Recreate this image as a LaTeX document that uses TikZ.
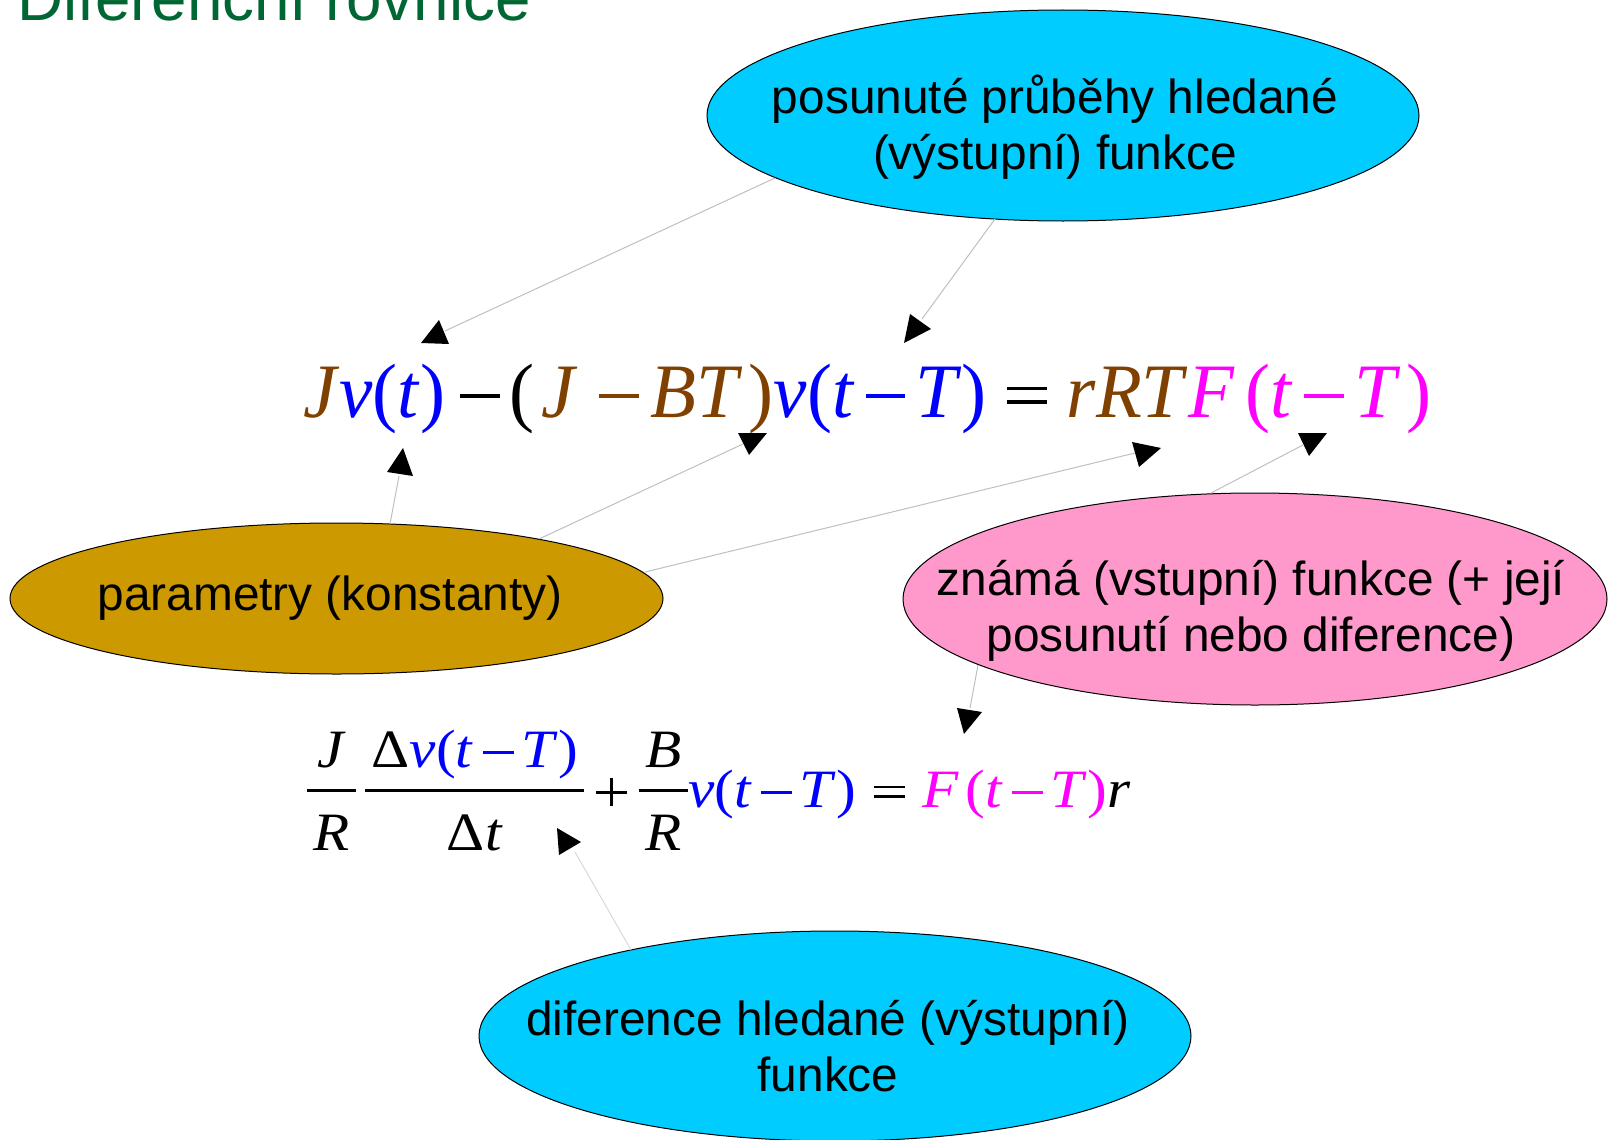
\documentclass[tikz,border=0pt]{standalone}
\usepackage{fontspec}
\usepackage{graphicx}
\setmainfont{Liberation Sans}
\newfontfamily\eqf{Liberation Serif}
\usetikzlibrary{shapes.geometric}
\definecolor{titlegreen}{HTML}{006633}
\definecolor{bubblecyan}{HTML}{00CCFF}
\definecolor{bubblegold}{HTML}{CC9900}
\definecolor{bubblepink}{HTML}{FF99CC}
\definecolor{eqbrown}{HTML}{804000}
\definecolor{eqblue}{HTML}{0000FF}
\definecolor{eqmag}{HTML}{FF00FF}
\definecolor{linkgray}{HTML}{C0C0C0}
\newcommand\myhs[1]{\hspace{#1em}}
\newcommand\mybro[1]{\textcolor{eqbrown}{#1}}
\newcommand\myblu[1]{\textcolor{eqblue}{#1}}
\newcommand\mymag[1]{\textcolor{eqmag}{#1}}
\newcommand\myiv[1]{\textit{#1}}
\newcommand\mymin{\rule[0.25em]{0.53em}{0.05em}}
\newcommand\myeqs{\rlap{\rule[0.175em]{0.53em}{0.045em}}\rule[0.345em]{0.53em}{0.045em}}
\newcommand\myplus{\rlap{\rule[0.25em]{0.52em}{0.05em}}\hspace{0.235em}\rlap{\rule[0.015em]{0.05em}{0.52em}}\hspace{0.285em}}
\newcommand\myfrac[2]{%
 \begingroup
 \setbox0=\hbox{#1}\setbox2=\hbox{#2}%
 \dimen0=\wd0 \ifdim\wd2>\dimen0 \dimen0=\wd2 \fi
 \advance\dimen0 by 0.22em
 \rlap{\hbox to\dimen0{\hss\raise0.74em\box0\hss}}%
 \rlap{\hbox to\dimen0{\hss\lower0.80em\box2\hss}}%
 \rlap{\rule[0.275em]{\dimen0}{0.05em}}%
 \hbox to\dimen0{\hss}%
 \endgroup}
\tikzset{
 bubble/.style={ellipse, draw=black, line width=1pt, inner sep=0pt},
 bubbletext/.style={inner sep=0pt, align=center, font=\fontsize{47.8}{56.5}\selectfont},
 link/.style={draw=linkgray, line width=1pt},
 tiphead/.style={fill=black},
}
\begin{document}
\begin{tikzpicture}[x=1pt,y=-1pt]
\useasboundingbox (0,0) rectangle (1609,1140);
\clip (0,0) rectangle (1609,1140);
\fill[white] (0,0) rectangle (1609,1140);

\node[anchor=base west, inner sep=0pt, text=titlegreen, font=\fontsize{63.7}{70}\selectfont] (title) at (17,21) {Diferenční rovnice};

% ellipses
\node[bubble, fill=bubblecyan, minimum width=712pt, minimum height=211pt] (top) at (1063,115.5) {};
\node[bubble, fill=bubblegold, minimum width=653pt, minimum height=151pt] (par) at (336.5,598.5) {};
\node[bubble, fill=bubblepink, minimum width=704pt, minimum height=212pt] (pink) at (1255,599) {};
\node[bubble, fill=bubblecyan, minimum width=712pt, minimum height=210pt] (bot) at (835,1036) {};

\node[bubbletext] (toptext) at (1055,127) {posunuté průběhy hledané\\(výstupní) funkce};
\node[bubbletext, anchor=base] (partext) at (330,610) {parametry (konstanty)};
\node[bubbletext] (pinktext) at (1251,611) {známá (vstupní) funkce (+ její\\posunutí nebo diference)};
\node[bubbletext] (bottext) at (828,1046) {diference hledané (výstupní)\\funkce};

% equations
\node[anchor=base west, inner sep=0pt] (eqa) at (303,417) {\resizebox{1128pt}{\height}{\eqf\fontsize{77}{80}\selectfont
\mybro{\myiv{J}}\myblu{\myiv{v}(\myiv{t})}\myhs{.2}\mymin\myhs{.12}(\myhs{.1}\mybro{\myiv{J}\myhs{.28}\mymin\myhs{.16}\myiv{BT}\myhs{.08})}\myblu{\myiv{v}(\myiv{t}\myhs{.15}\mymin\myhs{.13}\myiv{T})}\myhs{.27}\myeqs\myhs{.27}\mybro{\myiv{rRT}}\mymag{\myiv{F}\myhs{.15}(\myiv{t}\myhs{.15}\mymin\myhs{.13}\myiv{T}\myhs{.08})}}};

\node[anchor=base west, inner sep=0pt] (eqb) at (307,807) {\resizebox{823pt}{\height}{\eqf\fontsize{54}{60}\selectfont
\myfrac{\myiv{J}}{\myiv{R}}\myhs{.15}\myfrac{Δ\myblu{\myiv{v}(\myiv{t}\myhs{.15}\mymin\myhs{.13}\myiv{T})}}{Δ\myiv{t}}\myhs{.2}\myplus\myhs{.2}\myfrac{\myiv{B}}{\myiv{R}}\myblu{\myiv{v}(\myiv{t}\myhs{.15}\mymin\myhs{.13}\myiv{T})}\myhs{.3}\myeqs\myhs{.3}\mymag{\myiv{F}\myhs{.1}(\myiv{t}\myhs{.15}\mymin\myhs{.13}\myiv{T})}\myiv{r}}};

% connector end points
\coordinate (s1) at (775,178);  \coordinate (e1) at (445,331);
\coordinate (s2) at (995,219);  \coordinate (e2) at (922,319);
\coordinate (s3) at (390,524);  \coordinate (e3) at (399,476);
\coordinate (s4) at (539,539);  \coordinate (e4) at (743,444);
\coordinate (s5) at (645,572);  \coordinate (e5) at (1135,453);
\coordinate (s6) at (1211,493); \coordinate (e6) at (1303,445);
\coordinate (s7) at (978,665);  \coordinate (e7) at (970,708);
\coordinate (s8) at (631,950);  \coordinate (e8) at (575,852);

\draw[link] (s1) -- (e1);
\draw[link] (s2) -- (e2);
\draw[link] (s3) -- (e3);
\draw[link] (s4) -- (e4);
\draw[link] (s5) -- (e5);
\draw[link] (s6) -- (e6);
\draw[link] (s7) -- (e7);
\draw[link, draw=linkgray!60] (s8) -- (e8);

% arrow heads
\fill[tiphead] (421,343) -- (449,344) -- (439,320) -- cycle;
\fill[tiphead] (910,314) -- (931,329) -- (904,343) -- cycle;
\fill[tiphead] (387,472) -- (413,476) -- (403,448) -- cycle;
\fill[tiphead] (738,433) -- (767,433) -- (749,455) -- cycle;
\fill[tiphead] (1132,442) -- (1161,448) -- (1139,467) -- cycle;
\fill[tiphead] (1298,433) -- (1327,433) -- (1309,456) -- cycle;
\fill[tiphead] (957,708) -- (982,712) -- (964,734) -- cycle;
\fill[tiphead] (557,828) -- (581,842) -- (559,855) -- cycle;
\end{tikzpicture}
\end{document}
